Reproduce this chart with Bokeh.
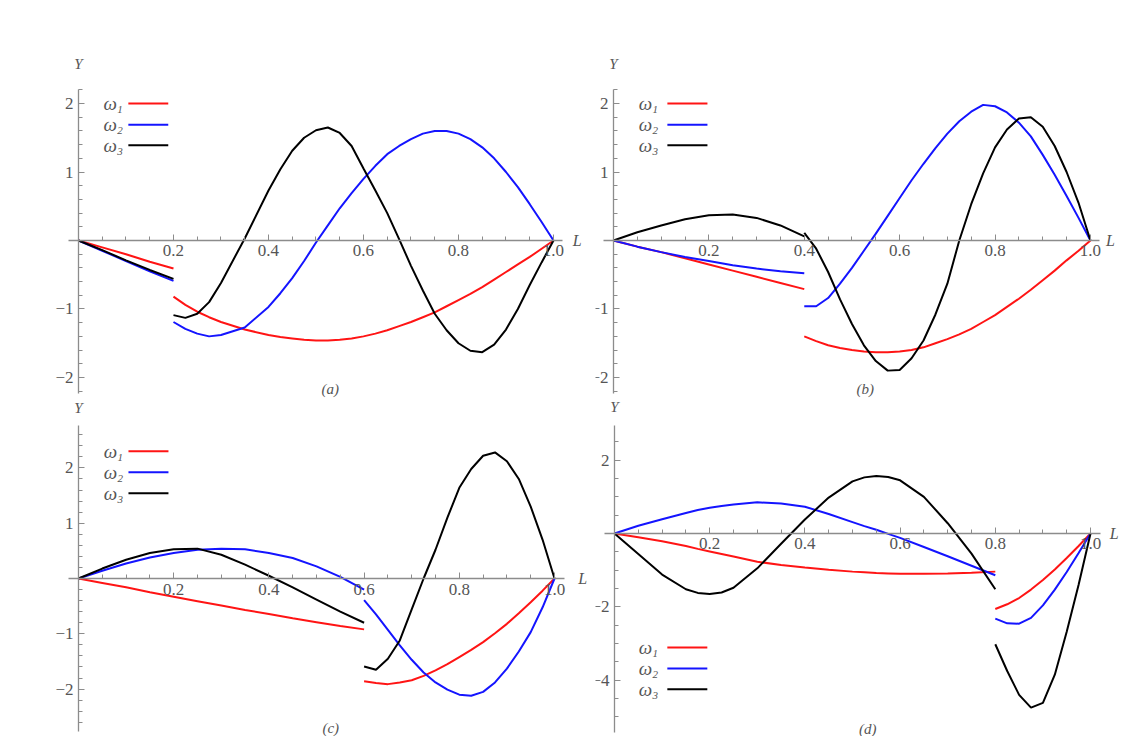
import numpy as np
from bokeh.plotting import figure
from bokeh.layouts import column, row
from bokeh.models import Label, Arrow, FixedTicker
from bokeh.embed import file_html
from bokeh.resources import INLINE

# ---------------- data ----------------
# panel (a): crack at L = 0.2
a_xl = [0, 0.05, 0.1, 0.15, 0.2]
a_w1_l = [0, -0.10, -0.20, -0.31, -0.41]
a_w2_l = [0, -0.15, -0.30, -0.45, -0.59]
a_w3_l = [0, -0.14, -0.29, -0.43, -0.56]
a_xr = [0.2, 0.225, 0.25, 0.275, 0.3, 0.35, 0.4, 0.425, 0.45, 0.475, 0.5, 0.525, 0.55, 0.575,
        0.6, 0.625, 0.65, 0.675, 0.7, 0.725, 0.75, 0.775, 0.8, 0.825, 0.85, 0.875, 0.9, 0.925,
        0.95, 0.975, 1.0]
a_w1_r = [-0.82, -0.94, -1.04, -1.12, -1.19, -1.30, -1.38, -1.41, -1.43, -1.45, -1.46, -1.46,
          -1.45, -1.43, -1.40, -1.36, -1.31, -1.25, -1.19, -1.12, -1.05, -0.96, -0.87, -0.78,
          -0.68, -0.57, -0.46, -0.35, -0.24, -0.12, 0]
a_w2_r = [-1.19, -1.29, -1.36, -1.40, -1.38, -1.27, -0.97, -0.77, -0.55, -0.30, -0.03, 0.22,
          0.47, 0.69, 0.90, 1.09, 1.26, 1.38, 1.48, 1.56, 1.60, 1.60, 1.56, 1.48, 1.36, 1.20,
          1.00, 0.78, 0.53, 0.27, 0]
a_w3_r = [-1.09, -1.13, -1.07, -0.90, -0.62, 0.03, 0.73, 1.04, 1.31, 1.50, 1.61, 1.65, 1.57,
          1.38, 1.05, 0.73, 0.40, 0.02, -0.37, -0.73, -1.07, -1.31, -1.50, -1.61, -1.63, -1.52,
          -1.30, -1.00, -0.65, -0.32, 0]

# panel (b): crack at L = 0.4
b_xl = [0, 0.05, 0.1, 0.15, 0.2, 0.25, 0.3, 0.35, 0.4]
b_w1_l = [0, -0.09, -0.17, -0.26, -0.35, -0.44, -0.53, -0.62, -0.71]
b_w2_l = [0, -0.09, -0.17, -0.24, -0.30, -0.36, -0.41, -0.45, -0.48]
b_w3_l = [0, 0.12, 0.22, 0.31, 0.37, 0.38, 0.33, 0.22, 0.06]
b_xr = [0.4, 0.425, 0.45, 0.475, 0.5, 0.525, 0.55, 0.575, 0.6, 0.625, 0.65, 0.675, 0.7, 0.725,
        0.75, 0.775, 0.8, 0.825, 0.85, 0.875, 0.9, 0.925, 0.95, 0.975, 1.0]
b_w1_r = [-1.40, -1.47, -1.53, -1.57, -1.60, -1.62, -1.63, -1.63, -1.62, -1.60, -1.56, -1.50,
          -1.44, -1.37, -1.29, -1.19, -1.09, -0.97, -0.85, -0.72, -0.58, -0.44, -0.29, -0.15, 0]
b_w2_r = [-0.96, -0.96, -0.84, -0.63, -0.40, -0.15, 0.10, 0.36, 0.62, 0.88, 1.12, 1.35, 1.56,
          1.74, 1.88, 1.98, 1.96, 1.87, 1.72, 1.52, 1.25, 0.96, 0.65, 0.33, 0]
b_w3_r = [0.11, -0.12, -0.46, -0.86, -1.22, -1.53, -1.76, -1.90, -1.89, -1.72, -1.46, -1.08,
          -0.63, 0.0, 0.53, 0.98, 1.36, 1.62, 1.78, 1.80, 1.66, 1.38, 1.00, 0.55, 0]

# panel (c): crack at L = 0.6
c_xl = [0, 0.05, 0.1, 0.15, 0.2, 0.25, 0.3, 0.35, 0.4, 0.45, 0.5, 0.55, 0.6]
c_w1_l = [0, -0.08, -0.16, -0.25, -0.33, -0.41, -0.49, -0.57, -0.64, -0.72, -0.79, -0.86, -0.92]
c_w2_l = [0, 0.14, 0.27, 0.38, 0.46, 0.52, 0.54, 0.53, 0.46, 0.37, 0.22, 0.03, -0.20]
c_w3_l = [0, 0.18, 0.34, 0.46, 0.53, 0.54, 0.43, 0.25, 0.05, -0.16, -0.38, -0.60, -0.80]
c_xr = [0.6, 0.625, 0.65, 0.675, 0.7, 0.725, 0.75, 0.775, 0.8, 0.825, 0.85, 0.875, 0.9, 0.925,
        0.95, 0.975, 1.0]
c_w1_r = [-1.86, -1.89, -1.91, -1.88, -1.84, -1.76, -1.66, -1.55, -1.42, -1.29, -1.15, -0.99,
          -0.82, -0.63, -0.43, -0.22, 0]
c_w2_r = [-0.39, -0.65, -0.93, -1.21, -1.47, -1.70, -1.88, -2.01, -2.10, -2.12, -2.05, -1.88,
          -1.63, -1.32, -0.97, -0.52, 0]
c_w3_r = [-1.59, -1.65, -1.45, -1.12, -0.56, 0.0, 0.52, 1.10, 1.64, 1.98, 2.22, 2.28, 2.12,
          1.80, 1.30, 0.70, 0]

# panel (d): crack at L = 0.8
d_xl = [0, 0.05, 0.1, 0.15, 0.175, 0.2, 0.225, 0.25, 0.3, 0.35, 0.4, 0.45, 0.5, 0.525, 0.55,
        0.575, 0.6, 0.65, 0.7, 0.75, 0.8]
d_w1_l = [0, -0.10, -0.21, -0.34, -0.42, -0.49, -0.56, -0.63, -0.77, -0.86, -0.93, -0.99,
          -1.04, -1.06, -1.08, -1.09, -1.10, -1.10, -1.09, -1.07, -1.04]
d_w2_l = [0, 0.21, 0.39, 0.56, 0.64, 0.70, 0.75, 0.79, 0.85, 0.82, 0.73, 0.53, 0.31, 0.20,
          0.10, -0.01, -0.12, -0.37, -0.62, -0.88, -1.14]
d_w3_l = [0, -0.56, -1.12, -1.52, -1.62, -1.65, -1.61, -1.48, -0.95, -0.28, 0.38, 0.98, 1.42,
          1.53, 1.57, 1.54, 1.45, 1.00, 0.28, -0.55, -1.52]
d_xr = [0.8, 0.825, 0.85, 0.875, 0.9, 0.925, 0.95, 0.975, 1.0]
d_w1_r = [-2.06, -1.93, -1.76, -1.53, -1.27, -0.98, -0.67, -0.34, 0]
d_w2_r = [-2.32, -2.45, -2.46, -2.30, -1.96, -1.53, -1.05, -0.53, 0]
d_w3_r = [-3.02, -3.75, -4.40, -4.75, -4.62, -3.85, -2.68, -1.40, 0]

x_ticks = [0.2, 0.4, 0.6, 0.8, 1.0]
x_tick_labels = ["0.2", "0.4", "0.6", "0.8", "1.0"]
mode_subs = ["1", "2", "3"]
panel_tags = ["(a)", "(b)", "(c)", "(d)"]

# ---------------- styling ----------------
SERIF = "Liberation Serif"
TXT = "#555555"
AXC = "#8c8c8c"
COLORS = ["#ff1414", "#1414ff", "#000000"]


def make_panel(xr, yr, fw, fh, bl, bt, yt, yminor, ybounds):
    p = figure(frame_width=fw, frame_height=fh, x_range=xr, y_range=yr,
               output_backend="svg", toolbar_location=None,
               min_border_left=bl, min_border_right=0,
               min_border_top=bt, min_border_bottom=0)
    p.grid.visible = False
    p.outline_line_color = None
    p.background_fill_color = "white"
    p.border_fill_color = "white"

    p.xaxis.fixed_location = 0
    p.yaxis.fixed_location = 0
    p.xaxis.ticker = FixedTicker(ticks=x_ticks,
                                 minor_ticks=[round(v, 3) for v in np.arange(0.05, 1.001, 0.05)])
    p.xaxis.major_label_overrides = {t: s for t, s in zip(x_ticks, x_tick_labels)}
    p.yaxis.ticker = FixedTicker(ticks=yt, minor_ticks=yminor)
    p.yaxis.major_label_overrides = {t: (("\u2212" + str(abs(t))) if t < 0 else str(t)) for t in yt}
    p.xaxis.bounds = (-0.02, 1.02)
    p.yaxis.bounds = ybounds
    for ax in (p.xaxis, p.yaxis):
        ax.axis_line_color = AXC
        ax.axis_line_width = 1.3
        ax.major_tick_line_color = AXC
        ax.minor_tick_line_color = AXC
        ax.major_tick_in = 6
        ax.major_tick_out = 0
        ax.minor_tick_in = 4
        ax.minor_tick_out = 0
        ax.major_label_text_font = SERIF
        ax.major_label_text_font_size = "17px"
        ax.major_label_text_color = TXT
        ax.major_label_standoff = 5
    return p


def draw(p, xl, ls, xr, rs):
    for c, yl, yr_ in zip(COLORS, ls, rs):
        p.line(xl, yl, line_color=c, line_width=2)
        p.line(xr, yr_, line_color=c, line_width=2)


def texts(p, ylab_y, llab_x, tag, tag_xy):
    p.add_layout(Label(x=0, y=ylab_y, text="Y", text_font=SERIF, text_font_style="italic",
                       text_font_size="15px", text_color=TXT, text_align="center",
                       text_baseline="middle"))
    p.add_layout(Label(x=llab_x, y=0, text="L", text_font=SERIF, text_font_style="italic",
                       text_font_size="16px", text_color=TXT, text_align="center",
                       text_baseline="middle"))
    p.add_layout(Label(x=tag_xy[0], y=tag_xy[1], text=tag, text_font=SERIF,
                       text_font_style="italic", text_font_size="15px", text_color=TXT,
                       text_align="center", text_baseline="middle"))


def legend(p, xt, x0, x1, ys):
    for c, s, y in zip(COLORS, mode_subs, ys):
        p.add_layout(Label(x=xt, y=y, text="\u03c9", text_font=SERIF, text_font_style="italic",
                           text_font_size="19px", text_color=TXT, text_align="center",
                           text_baseline="middle"))
        p.add_layout(Label(x=xt, y=y, x_offset=7, y_offset=-6, text=s, text_font=SERIF,
                           text_font_style="italic", text_font_size="11px", text_color=TXT,
                           text_align="left", text_baseline="middle"))
        p.add_layout(Arrow(x_start=x0, y_start=y, x_end=x1, y_end=y, end=None,
                           line_color=c, line_width=2))


ab_yt = [-2, -1, 1, 2]
ab_minor = [round(v, 2) for v in np.arange(-2.2, 2.21, 0.2)]

pa = make_panel((-0.0589, 1.0779), (-2.307, 2.774), 540, 348, 50, 50, ab_yt, ab_minor, (-2.24, 2.2))
draw(pa, a_xl, [a_w1_l, a_w2_l, a_w3_l], a_xr, [a_w1_r, a_w2_r, a_w3_r])
texts(pa, 2.58, 1.05, panel_tags[0], (0.53, -2.175))
legend(pa, 0.067, 0.105, 0.189, [2.0, 1.69, 1.39])

pb = make_panel((-0.0377, 1.063), (-2.307, 2.774), 525, 348, 5, 50, ab_yt, ab_minor, (-2.24, 2.2))
draw(pb, b_xl, [b_w1_l, b_w2_l, b_w3_l], b_xr, [b_w1_r, b_w2_r, b_w3_r])
texts(pb, 2.58, 1.042, panel_tags[1], (0.528, -2.175))
legend(pb, 0.067, 0.113, 0.197, [2.0, 1.69, 1.39])

c_yt = [-2, -1, 1, 2]
c_minor = [round(v, 2) for v in np.arange(-2.6, 2.61, 0.2)]
pc = make_panel((-0.0588, 1.0756), (-2.857, 3.255), 540, 338, 50, 0, c_yt, c_minor, (-2.76, 2.76))
draw(pc, c_xl, [c_w1_l, c_w2_l, c_w3_l], c_xr, [c_w1_r, c_w2_r, c_w3_r])
texts(pc, 3.09, 1.059, panel_tags[2], (0.53, -2.71))
legend(pc, 0.067, 0.105, 0.189, [2.30, 1.92, 1.54])

d_yt = [-4, -2, 2]
d_minor = [round(v, 2) for v in np.arange(-5.0, 2.51, 0.5)]
pd_ = make_panel((-0.0399, 1.063), (-5.536, 3.681), 525, 338, 5, 0, d_yt, d_minor, (-5.43, 2.94))
draw(pd_, d_xl, [d_w1_l, d_w2_l, d_w3_l], d_xr, [d_w1_r, d_w2_r, d_w3_r])
texts(pd_, 3.44, 1.05, panel_tags[3], (0.532, -5.32))
legend(pd_, 0.065, 0.111, 0.195, [-3.11, -3.68, -4.25])

layout = column(row(pa, pb), row(pc, pd_))
open("out.html", "w").write(file_html(layout, INLINE))
